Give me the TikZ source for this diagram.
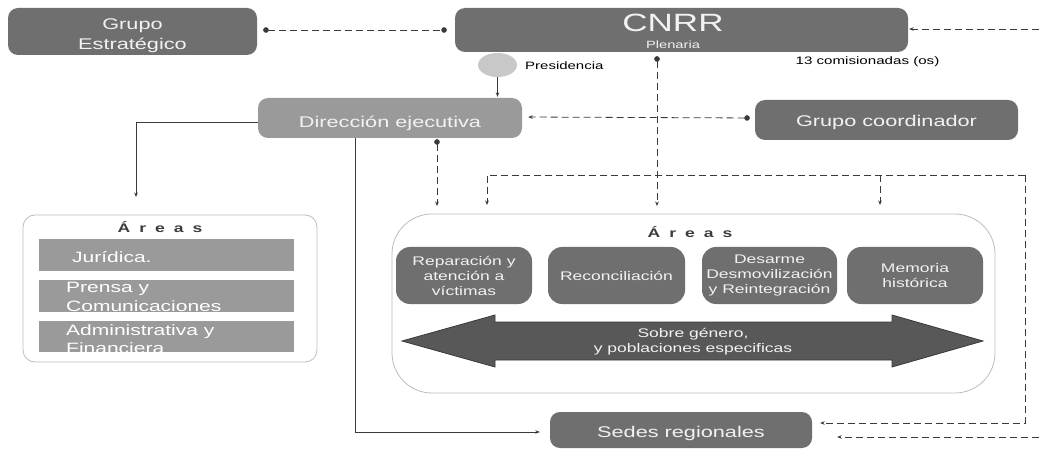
\documentclass[tikz,border=0pt]{standalone}
\usepackage{fontspec}
\setmainfont{Liberation Sans}[FakeStretch=1.4]
\usetikzlibrary{arrows.meta,shapes.geometric,calc}
\definecolor{dk}{HTML}{6F6F6F}
\definecolor{md}{HTML}{9A9A9A}
\definecolor{lt}{HTML}{C8C8C8}
\definecolor{bd}{HTML}{BDBDBD}
\definecolor{ar}{HTML}{585858}
\definecolor{tx}{HTML}{F2F2F2}
\definecolor{ln}{HTML}{3A3A3A}
\definecolor{ttl}{HTML}{3C3C3C}
\begin{document}
\begin{tikzpicture}[x=1pt,y=-1pt,
  box/.style={rounded corners=10pt, inner sep=0pt, text=tx, align=center},
  darkbox/.style={box, fill=dk},
  medbox/.style={box, fill=md},
  bigfont/.style={font=\fontsize{15.5}{20}\selectfont},
  subfont/.style={font=\fontsize{12.5}{15}\selectfont},
  subbox/.style={darkbox, rounded corners=14pt, minimum height=57pt, subfont},
  rectbox/.style={fill=md, minimum width=255pt, inner sep=0pt},
  recttext/.style={anchor=west, text=white, align=left, inner sep=0pt},
  frame/.style={draw=bd, line width=0.8pt, fill=white},
  titletext/.style={font=\bfseries\fontsize{12.5}{14}\selectfont, text=ttl, inner sep=0pt},
  conn/.style={draw=ln, line width=0.8pt},
  dashconn/.style={conn, dash pattern=on 7pt off 4pt},
  tipend/.style={-{Stealth[length=4.5pt,width=3.6pt]}},
  dotboth/.style={{Circle[length=5.5pt,width=5.5pt]}-{Circle[length=5.5pt,width=5.5pt]}},
  dottip/.style={{Circle[length=5.5pt,width=5.5pt]}-{Stealth[length=4.5pt,width=3.6pt]}},
]
\useasboundingbox (0,0) rectangle (1039,449);
\fill[white] (0,0) rectangle (1039,449);

% top row
\node[darkbox, minimum width=249pt, minimum height=47pt] (ge) at (132.5,31.5) {};
\node[text=tx, align=center, inner sep=0pt, bigfont] (getext) at (132.5,35.5) {Grupo\\Estratégico};
\node[darkbox, minimum width=453pt, minimum height=44pt] (cnrr) at (681.5,30) {};
\node[text=tx, font=\fontsize{25}{25}\selectfont, inner sep=0pt] (cnrrT) at (673,22.5) {CNRR};
\node[text=tx, font=\fontsize{10.5}{12}\selectfont, inner sep=0pt] (plen) at (673,45) {Plenaria};
\node[ellipse, fill=lt, minimum width=39pt, minimum height=24pt, inner sep=0pt] (pres) at (497.5,65) {};
\node[anchor=west, font=\fontsize{10.7}{12}\selectfont, inner sep=0pt] (prest) at (525,66) {Presidencia};
\node[font=\fontsize{10.8}{12}\selectfont, inner sep=0pt] (com) at (867.5,62) {13 comisionadas (os)};
\coordinate (rt) at (1039,29);

% second row
\node[medbox, minimum width=264pt, minimum height=40pt, bigfont, text height=18.5pt, text depth=0pt] (de) at (390,118) {Dirección ejecutiva};
\node[darkbox, minimum width=263pt, minimum height=40pt, bigfont, text height=13.5pt, text depth=0pt] (gc) at (886.5,120) {Grupo coordinador};

% left areas
\node[frame, rounded corners=12pt, minimum width=294pt, minimum height=147pt] (lbox) at (170,288.5) {};
\node[titletext] (ltitle) at (160,227) {Á\hspace{9pt}r\hspace{9pt}e\hspace{9pt}a\hspace{9pt}s};
\node[rectbox, minimum height=32pt] (r1) at (166.5,255) {};
\node[rectbox, minimum height=32pt] (r2) at (166.5,296) {};
\node[rectbox, minimum height=31pt] (r3) at (166.5,336.5) {};
\node[recttext, font=\fontsize{15}{19}\selectfont] (t1) at (72,257) {Jurídica.};
\node[recttext, font=\fontsize{15}{19}\selectfont] (t2) at (66,297) {Prensa y\\Comunicaciones};
\node[recttext, font=\fontsize{15}{18}\selectfont] (t3) at (66,339.5) {Administrativa y\\Financiera};

% big areas
\node[frame, rounded corners=40pt, minimum width=603pt, minimum height=179pt] (bbox) at (693.5,303.5) {};
\node[titletext] (btitle) at (690,232) {Á\hspace{9pt}r\hspace{9pt}e\hspace{9pt}a\hspace{9pt}s};
\node[subbox, minimum width=136pt] (s1) at (464,275.5) {Reparación y\\atención a\\víctimas};
\node[subbox, minimum width=137pt] (s2) at (616.5,275.5) {Reconciliación};
\node[subbox, minimum width=135pt] (s3) at (769.5,275.5) {Desarme\\Desmovilización\\y Reintegración};
\node[subbox, minimum width=136pt] (s4) at (915,275.5) {Memoria\\histórica};
\draw[draw=ln, line width=0.8pt, fill=ar] (402,341) -- (495,315) -- (495,322) -- (892,322) -- (892,315)
  -- (983,341) -- (892,367) -- (892,360) -- (495,360) -- (495,367) -- cycle;
\node[text=tx, align=center, subfont, inner sep=0pt] (sg) at (693,342) {Sobre género,\\y poblaciones especificas};

% sedes
\node[darkbox, minimum width=262pt, minimum height=36pt, bigfont, text height=14pt, text depth=0pt] (se) at (681,430) {Sedes regionales};

% free ends
\coordinate (a1) at (136,197);
\coordinate (a2) at (437,206);
\coordinate (a3) at (657,206);
\coordinate (c1) at (1025,175);
\coordinate (c2) at (487,175);
\coordinate (c3) at (880,175);
\coordinate (c4) at (1025,423);
\coordinate (rb) at (1039,437);

% connectors
\draw[dashconn, dotboth, shorten <=6pt, shorten >=8pt] (ge.east |- cnrr.west) -- (cnrr.west);
\draw[dashconn, tipend, shorten >=1pt] (rt) -- (rt -| cnrr.east);
\draw[conn, tipend, shorten >=1pt] (pres.south) -- (pres.south |- de.north);
\draw[dashconn, dottip, shorten <=5pt, shorten >=6pt] ($(gc.west)+(0,-2)$) -- ($(de.east)+(0,-1)$);
\draw[conn, tipend] ($(de.west)+(0,4)$) -| (a1);
\draw[conn, tipend, shorten >=10pt] ([xshift=-35pt]de.south) |- ($(se.west)+(0,2)$);
\draw[dashconn, dottip, shorten <=1pt] ([xshift=47pt]de.south) -- (a2);
\draw[dashconn, dottip, shorten <=4pt] ([xshift=-24.5pt]cnrr.south) -- (a3);
\draw[dashconn, tipend] (c1) -- (c2) -- ($(c2)+(0,30)$);
\draw[dashconn, tipend] (c3) -- ($(c3)+(0,30)$);
\draw[dashconn, tipend, shorten >=8pt] (c1) -- (c4) -- (c4 -| se.east);
\draw[dashconn, tipend, shorten >=25pt] (rb) -- (rb -| se.east);
\end{tikzpicture}
\end{document}
